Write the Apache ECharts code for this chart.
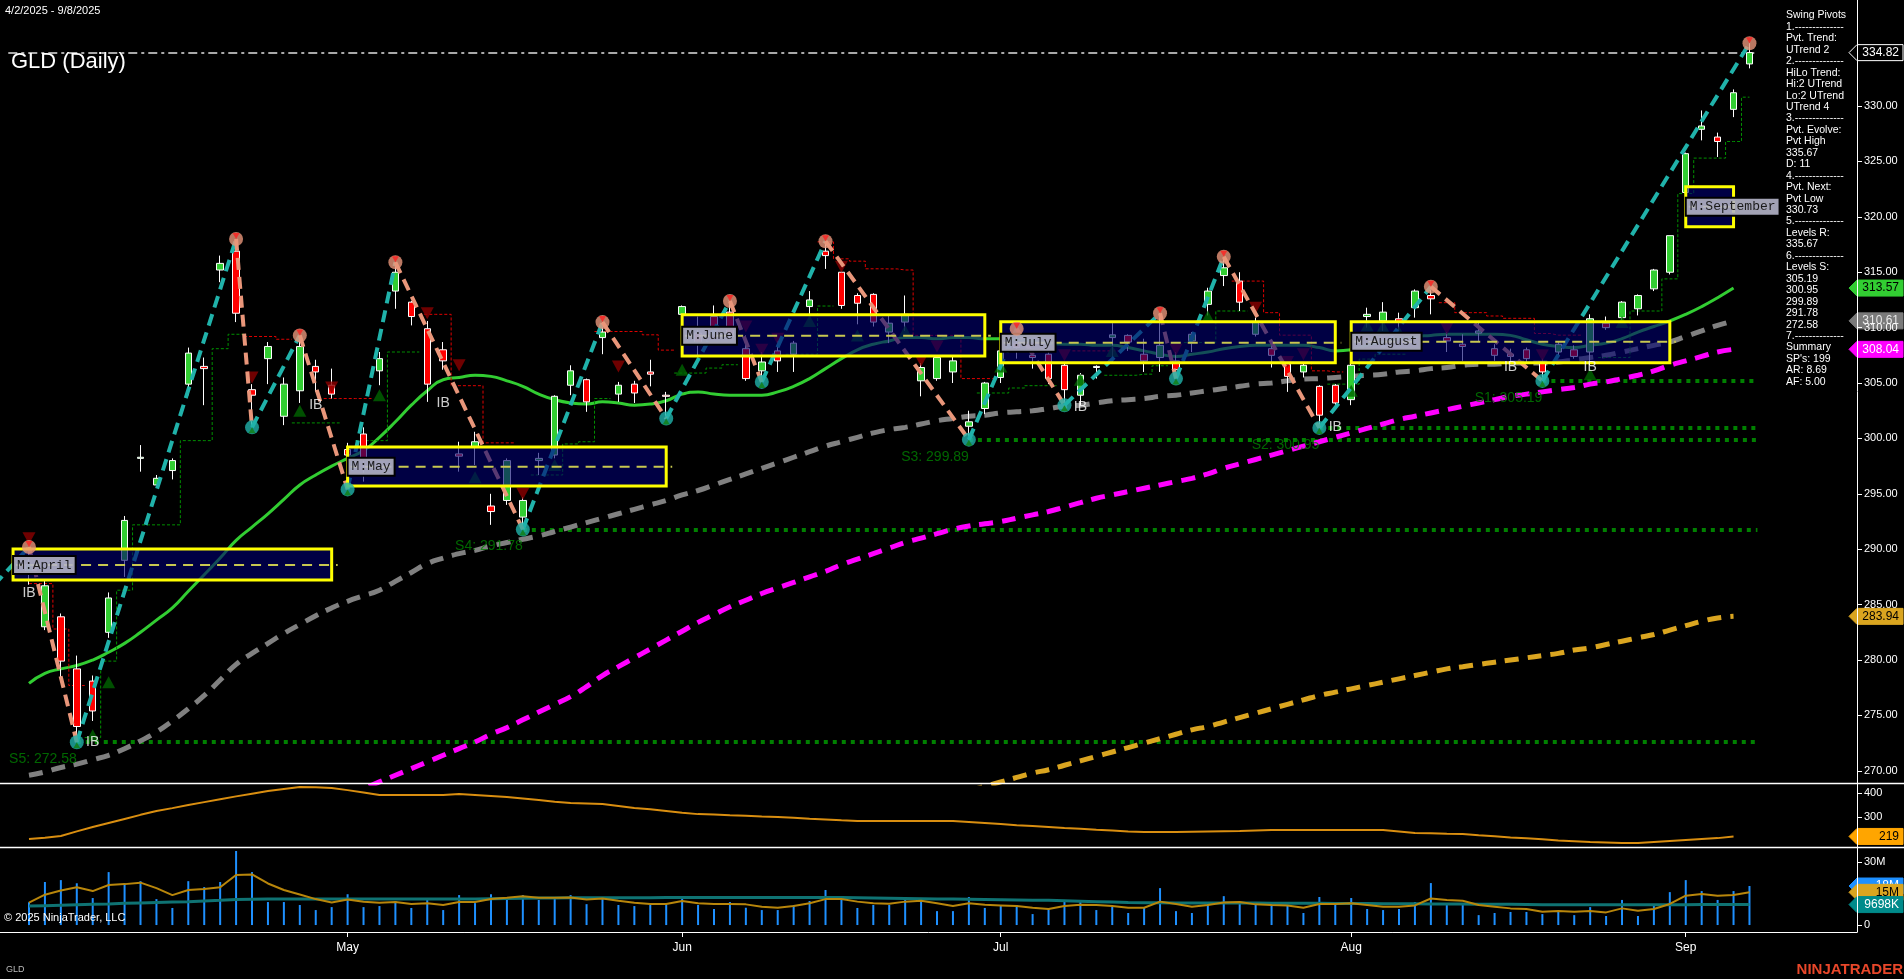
<!DOCTYPE html>
<html><head><meta charset="utf-8">
<script src="https://cdn.jsdelivr.net/npm/echarts@6/dist/echarts.min.js"></script>
<style>html,body{margin:0;padding:0;background:#000;overflow:hidden}#c{width:1904px;height:979px}</style>
</head><body><div id="c"></div>
<script>
// ---------------- DATA ----------------
const monthLabels = ['May','Jun','Jul','Aug','Sep'];
const monthTickIdx = [20,41,61,83,104];
const priceTicks = [270,275,280,285,290,295,300,305,310,315,320,325,330];
const indTicks = [300,400];
const volTicks = [0,30000000];

const opens = [288.0,283.0,283.9,279.2,278.1,282.5,289.0,298.2,295.8,297.1,
304.9,306.5,315.2,316.9,304.4,307.2,302.0,304.3,306.5,304.8,
299.0,300.4,306.1,313.3,312.3,309.9,308.0,298.6,299.2,293.9,
294.4,292.9,298.0,298.5,304.8,305.3,309.1,304.0,304.9,306.0,
303.9,311.2,309.5,311.0,311.4,308.1,306.1,307.9,307.6,311.9,
316.9,315.0,312.9,313.0,309.6,310.5,305.2,305.4,306.0,301.1,
302.7,305.5,308.6,307.5,307.6,306.6,303.9,306.4,309.1,309.3,
307.6,307.3,307.0,308.8,312.1,314.7,314.2,309.4,308.1,306.7,
306.0,304.7,304.8,303.5,311.0,310.6,310.8,311.8,312.9,309.1,
308.5,309.5,308.1,307.6,308.0,306.9,307.8,308.0,307.8,310.4,
310.9,311.7,313.5,315.0,322.2,327.9,327.2,329.7,333.8];
const highs = [290.2,287.2,284.2,280.4,278.6,286.1,293.0,299.4,296.7,298.2,
308.2,307.3,316.5,318.0,304.9,308.7,305.5,309.3,307.1,306.3,
299.6,301.0,307.8,315.9,312.4,310.6,308.7,299.7,300.6,295.0,
298.2,294.7,298.7,303.9,306.6,305.4,310.5,305.1,305.2,307.1,
304.2,312.0,311.0,312.0,312.4,309.3,307.8,308.8,308.8,313.3,
317.8,315.1,313.1,313.1,311.1,312.9,306.8,307.4,307.5,302.5,
305.1,308.5,309.9,307.6,307.8,306.9,305.9,306.6,310.4,309.4,
309.0,311.3,307.8,309.6,313.6,316.4,315.0,310.9,308.4,306.9,
306.9,304.8,304.9,307.0,311.8,312.3,311.35,313.45,313.7,309.6,
309.4,310.6,308.5,308.1,308.2,307.2,308.7,308.4,311.2,311.0,
312.4,313.0,315.3,318.3,325.8,329.6,327.6,331.5,335.67];
const lows = [286.8,282.7,278.3,272.58,274.5,282.0,287.5,297.0,295.7,296.3,
303.9,303.0,314.1,310.5,301.0,304.9,301.2,303.2,304.2,303.6,
295.4,296.1,304.8,311.7,310.2,303.3,306.2,297.0,297.6,292.2,
294.0,291.78,296.7,298.2,303.9,302.4,307.6,303.3,303.2,304.7,
301.8,307.6,307.4,309.4,309.0,305.2,305.1,306.0,306.0,311.1,
315.3,311.7,310.3,310.1,308.6,309.7,303.8,305.2,305.0,299.89,
302.2,305.0,307.2,306.3,304.9,303.0,303.0,305.4,306.9,307.9,
306.0,306.0,305.4,307.8,311.1,313.75,311.5,309.2,306.4,304.2,
305.5,300.95,302.9,303.0,310.0,309.7,309.3,310.9,311.2,307.8,
307.0,308.7,307.0,306.9,306.9,305.19,307.5,307.2,306.6,309.8,
310.7,311.1,313.3,314.8,321.0,326.9,325.4,329.0,333.4];
const closes = [288.6,286.7,279.9,274.0,275.4,285.6,292.6,298.3,296.4,298.0,
307.7,306.3,315.8,311.3,303.9,308.3,304.9,308.3,306.0,304.0,
298.5,298.2,307.2,315.0,311.0,304.9,307.0,298.4,299.7,293.4,
298.0,294.4,298.2,303.8,306.1,303.3,309.6,304.8,304.1,305.8,
303.8,311.9,308.5,309.9,309.4,305.4,306.9,307.0,308.6,312.5,
316.5,312.0,312.2,310.5,310.4,311.2,306.4,307.3,307.0,301.5,
305.0,307.9,308.2,307.3,305.4,304.4,305.7,306.5,309.35,308.7,
307.0,308.4,306.2,309.4,313.3,315.4,312.3,310.5,307.5,305.6,
306.6,302.1,303.2,306.6,311.2,311.4,310.5,313.3,312.6,308.8,
308.3,309.7,307.5,307.4,307.2,306.0,308.5,307.4,310.8,310.0,
312.3,312.9,315.2,318.3,325.7,328.2,326.8,331.2,334.82];

const volumesM = [10.8,20.4,21.3,19.8,12.8,25.1,19.8,20.8,12.3,8.1,
20.8,18.0,20.4,35.1,25.1,10.9,10.9,9.5,7.1,8.5,
14.6,8.5,9.0,11.4,8.1,11.9,7.1,14.2,10.4,14.6,
13.1,14.2,11.9,12.8,14.2,9.9,13.3,9.5,9.0,9.5,
9.5,13.7,9.5,7.6,10.9,8.2,7.1,7.1,9.5,11.4,
16.6,12.8,8.1,9.5,9.5,12.8,11.9,6.6,6.6,13.3,
8.1,9.5,9.5,5.2,7.6,11.9,10.9,7.1,9.0,5.7,
8.1,17.5,6.6,5.7,10.9,13.7,10.9,9.5,9.5,9.5,
5.7,13.3,9.5,12.8,7.6,7.1,7.6,10.9,19.9,10.4,
9.9,4.7,5.7,6.2,6.2,5.2,6.6,4.7,8.5,4.3,
11.9,4.3,9.5,15.6,21.3,16.1,11.9,16.1,18.5];
const volMaShortM = [10.6,14.4,16.4,17.9,16.1,19.0,19.4,20.1,17.5,14.2,
16.6,17.1,17.9,23.7,24.0,19.7,16.6,14.5,12.3,10.7,
12.1,11.0,10.6,10.9,10.0,10.3,9.5,10.9,10.9,12.3,
12.9,13.6,12.9,12.9,13.1,12.1,12.6,11.5,10.6,10.0,
10.0,11.4,10.3,10.0,10.0,9.8,8.7,8.2,9.0,10.3,
12.3,12.3,11.1,10.3,10.1,11.1,11.5,10.3,9.0,10.3,
9.6,9.3,9.0,8.2,7.6,9.0,9.6,9.5,9.0,8.2,
8.2,11.1,10.0,8.7,9.5,10.7,10.9,9.8,9.5,9.3,
8.2,10.0,10.0,10.3,9.5,8.7,8.7,9.3,12.6,11.9,
11.5,9.5,8.7,7.9,7.6,6.3,6.6,6.3,6.6,6.0,
7.9,6.8,7.6,10.0,13.9,14.7,13.9,14.2,15.5];
const volMaLongM = [9.0,9.2,9.4,9.6,9.8,10.0,10.3,10.5,10.7,10.9,
11.1,11.4,11.7,12.1,12.2,12.3,12.3,12.3,12.3,12.3,
12.3,12.3,12.3,12.3,12.3,12.4,12.4,12.4,12.4,12.5,
12.6,12.7,12.8,12.8,12.9,12.9,12.9,12.9,12.9,12.9,
13.0,13.0,13.0,13.1,13.1,13.1,13.1,13.1,13.1,13.1,
13.1,13.0,12.9,12.8,12.7,12.6,12.5,12.4,12.3,12.2,
12.1,12.0,11.9,11.8,11.7,11.5,11.3,11.1,10.9,10.7,
10.6,10.6,10.5,10.5,10.5,10.4,10.4,10.4,10.3,10.3,
10.3,10.3,10.2,10.2,10.2,10.1,10.1,10.1,10.0,10.0,
10.0,9.9,9.9,9.8,9.7,9.6,9.6,9.6,9.6,9.6,
9.6,9.6,9.6,9.6,9.6,9.7,9.7,9.7,9.698];

const indValues = [208,214,221,240,258,275,292,309,325,337,
350,362,374,386,397,408,417,425,424,421,
412,402,392,392,392,392,392,396,392,388,
383,377,371,364,358,356,354,346,338,332,
325,318,312,310,307,305,302,300,297,293,
290,286,283,283,283,283,283,283,283,279,
275,271,266,262,258,254,251,247,244,240,
237,237,238,239,240,241,242,244,246,246,
246,246,246,246,246,246,240,233,232,230,
229,224,220,215,211,207,202,199,196,194,
192,192,196,200,204,208,212,219];

const maGreen = [277.9,278.8,279.2,279.5,280.0,280.7,281.5,282.5,283.6,284.7,
286.2,287.7,289.2,290.8,292.0,293.2,294.5,295.8,296.7,297.5,
298.2,298.9,300.1,301.5,303.0,304.3,305.3,305.5,305.7,305.6,
305.2,304.7,304.0,303.5,303.2,303.1,303.3,303.2,303.0,303.1,
303.4,304.0,304.2,304.0,303.9,303.9,303.9,304.2,304.7,305.4,
306.3,307.2,308.0,308.5,308.8,309.1,309.1,309.0,309.1,309.1,
309.0,309.0,308.9,308.8,308.6,308.5,308.5,308.4,308.4,308.2,
307.9,307.6,307.4,307.6,307.8,308.1,308.3,308.4,308.4,308.4,
308.4,308.2,307.9,308.0,308.4,308.7,309.0,309.2,309.3,309.4,
309.4,309.4,309.4,309.3,308.9,308.5,308.3,308.2,308.4,308.6,
309.0,309.6,310.1,310.6,311.2,311.9,312.7,313.57];
const maGray = [269.6,269.9,270.3,270.6,271.0,271.4,272.0,272.7,273.5,274.5,
275.6,276.8,278.2,279.6,280.6,281.5,282.4,283.2,284.0,284.7,
285.3,285.8,286.3,287.1,287.9,288.7,289.2,289.6,289.9,290.3,
290.6,290.9,291.2,291.6,292.0,292.4,292.8,293.2,293.6,294.0,
294.4,294.9,295.3,295.8,296.3,296.8,297.3,297.8,298.3,298.8,
299.3,299.7,300.1,300.5,300.8,301.0,301.3,301.6,301.8,302.0,
302.1,302.3,302.4,302.5,302.7,302.9,303.0,303.2,303.4,303.5,
303.6,303.8,303.9,304.1,304.3,304.5,304.7,304.9,305.0,305.2,
305.35,305.4,305.5,305.6,305.7,305.8,306.0,306.1,306.3,306.4,
306.6,306.7,306.7,306.8,306.8,306.8,306.9,307.1,307.3,307.5,
307.8,308.1,308.4,308.7,309.2,309.7,310.2,310.61];
const maMagentaStart = 20;
const maMagenta = [267.8,268.4,269.0,269.6,270.2,270.8,271.4,272.0,272.6,273.3,
273.9,274.6,275.3,276.0,276.7,277.6,278.6,279.4,280.2,281.0,
281.8,282.6,283.4,284.1,284.8,285.4,286.0,286.5,287.0,287.5,
288.0,288.6,289.1,289.6,290.1,290.6,291.0,291.4,291.8,292.1,
292.3,292.5,292.8,293.1,293.4,293.8,294.2,294.6,294.9,295.2,
295.5,295.8,296.1,296.4,296.8,297.3,297.7,298.1,298.5,298.9,
299.3,299.7,300.1,300.5,300.9,301.3,301.7,302.0,302.3,302.6,
302.9,303.2,303.5,303.8,304.0,304.2,304.4,304.6,304.9,305.1,
305.4,305.7,306.1,306.6,307.0,307.4,307.8,308.04];
const maOrangeStart = 59;
const maOrange = [268.2,268.6,269.0,269.4,269.8,270.1,270.5,270.9,271.3,271.7,
272.1,272.5,272.9,273.3,273.7,274.0,274.4,274.8,275.2,275.6,
276.0,276.4,276.8,277.1,277.4,277.7,278.0,278.3,278.6,278.9,
279.2,279.4,279.6,279.8,280.0,280.2,280.4,280.6,280.9,281.1,
281.4,281.7,282.0,282.3,282.7,283.1,283.5,283.8,283.94];

// trailing swing stops, one value per bar (null = none)
const trailGreen = [null,null,null,null,273.0,279.9,286.3,292.2,292.2,292.2,
299.8,299.8,308.1,309.4,null,null,null,301.4,301.4,301.4,
null,299.8,299.8,307.8,307.8,null,null,null,null,null,
null,null,296.7,296.7,299.5,299.7,303.6,null,null,null,
null,305.9,305.9,306.35,306.65,null,null,null,307.6,307.6,
311.95,null,null,null,null,null,null,null,null,null,
304.1,304.1,304.55,304.76,304.76,null,null,null,305.7,305.7,
305.8,306.56,null,308.65,308.65,311.5,311.5,null,null,null,
null,null,304.9,304.9,307.16,307.6,307.6,null,null,null,
null,null,null,null,null,null,null,null,null,307.3,
307.3,311.5,311.5,314.4,322.1,325.3,325.3,326.8,330.8];
const trailRed = [286.9,286.9,282.8,277.7,null,null,null,null,null,null,
null,null,null,null,309.2,309.2,308.95,null,null,303.6,
303.6,303.6,null,null,null,311.2,311.2,304.76,304.76,299.6,
299.6,null,null,null,null,null,309.65,309.65,309.65,309.35,
307.97,null,null,null,null,null,null,null,null,null,
317.74,316.21,316.0,315.31,315.3,315.2,309.3,309.3,309.3,305.4,
305.4,null,null,null,null,null,307.9,307.9,307.9,null,
null,null,null,null,null,null,314.2,314.2,311.35,309.32,
309.32,306.1,306.0,null,null,null,null,null,null,312.25,
311.35,311.35,311.05,310.84,310.84,309.47,309.32,309.32,null,null,
null,null,null,null,null,null,null,null,null];

// swing pivots: [bar index, price, 'H'|'L']
const pivotIdx   = [-3,0,3,13,14,17,20,23,31,36,40,44,46,50,59,62,65,71,72,75,81,88,95,108];
const pivotPrice = [285.5,290.2,272.58,318.0,301.0,309.3,295.4,315.9,291.78,310.5,301.8,312.4,305.1,317.8,299.89,309.9,303.0,311.3,305.4,316.4,300.95,313.7,305.19,335.67];
const pivotType  = ['L','H','L','H','L','H','L','H','L','H','L','H','L','H','L','H','L','H','L','H','L','H','L','H'];

// monthly opening-range boxes
const boxNames = ['M:April','M:May','M:June','M:July','M:August','M:September'];
const boxStart = [-1,20,41,61,83,104];
const boxEnd   = [19,40,60,82,103,107];
const boxLow   = [287.22,295.70,307.44,306.83,306.83,319.11];
const boxHigh  = [290.02,299.22,311.16,310.53,310.53,322.72];
const boxMid   = [288.57,297.45,309.27,308.64,308.73,320.91];

// support levels
const supportNames = ['S5: 272.58','S4: 291.78','S3: 299.89','S2: 300.95','S1: 305.19'];
const supportIdx = [3,31,59,81,95];
const supportVal = [272.58,291.78,299.89,300.95,305.19];
const lastPrice = 334.82;

// markers
const downTriIdx = [0,14,19,25,27,31,37,45,46,47,51,56,57,65,72,77,79,80,89,95];
const downTriVal = [291.0,305.5,304.6,311.3,306.6,295.0,306.5,310.1,308.0,309.0,315.5,307.0,308.3,307.5,308.0,311.8,306.9,307.6,309.9,307.5];
const upTriIdx = [4,5,17,22,28,33,41,49,52,55,61,66,68,74,83,84,85,86,98,100];
const upTriVal = [273.2,278.0,302.5,303.9,296.5,297.6,306.2,310.6,309.3,309.7,306.5,305.3,307.9,311.0,304.3,310.2,310.1,309.6,305.8,310.5];
const ibIdx = [0,4,18,26,66,82,93,98];
const ibVal = [286.0,272.6,303.0,303.2,302.8,301.0,306.4,306.4];

const pivotPanelLines = ['Swing Pivots','1.--------------','Pvt. Trend:','UTrend 2','2.--------------','HiLo Trend:','Hi:2 UTrend','Lo:2 UTrend','UTrend 4','3.--------------','Pvt. Evolve:','Pvt High','335.67','D: 11','4.--------------','Pvt. Next:','Pvt Low','330.73','5.--------------','Levels R:','335.67','6.--------------','Levels S:','305.19','300.95','299.89','291.78','272.58','7.--------------','Summary',"SP's: 199",'AR: 8.69','AF: 5.00'];

// ---------------- CHART ----------------
const chart = echarts.init(document.getElementById('c'), null, {renderer:'canvas'});
const XMIN = -1.82, XMAX = 114.75;
const FONT = '"Liberation Sans", Arial, sans-serif';
const idx = a => a.map((v,i)=>[i,v]);
const idxFrom = (a,s) => a.map((v,i)=>[i+s,v]);

const candleData = opens.map((o,i)=>[i,o,closes[i],lows[i],highs[i]]);
const upSegs=[], dnSegs=[];
for (let k=1;k<pivotIdx.length;k++){
  const seg = {coords:[[pivotIdx[k-1],pivotPrice[k-1]],[pivotIdx[k],pivotPrice[k]]]};
  (pivotType[k]==='H'?upSegs:dnSegs).push(seg);
}
const pivotPts = pivotIdx.map((x,k)=>({value:[x,pivotPrice[k]], itemStyle:{color: pivotType[k]==='H'?'#E9967A':'#20B2AA'}})).filter(p=>p.value[0]>=0);
const pivotHighMarks = pivotIdx.map((x,k)=>[x,pivotPrice[k],pivotType[k]]).filter(p=>p[0]>=0 && p[2]==='H').map(p=>[p[0],p[1]]);
const pivotLowMarks = pivotIdx.map((x,k)=>[x,pivotPrice[k],pivotType[k]]).filter(p=>p[0]>=0 && p[2]==='L').map(p=>[p[0],p[1]]);
const supportSegs = supportIdx.map((x,k)=>({coords:[[x,supportVal[k]],[108.5,supportVal[k]]]}));
const boxData = boxNames.map((n,k)=>[boxStart[k],boxEnd[k],boxLow[k],boxHigh[k],boxMid[k]]);
const trail = a => a.map((v,i)=>[i, v===null?'-':v]);

function renderBox(params, api){
  const s=api.value(0), e=api.value(1), lo=api.value(2), hi=api.value(3), mid=api.value(4);
  const tl=api.coord([s,hi]), br=api.coord([e,lo]), ml=api.coord([s,mid]), mr=api.coord([e,mid]);
  return {type:'group', children:[
    {type:'rect', shape:{x:tl[0], y:tl[1], width:br[0]-tl[0], height:br[1]-tl[1]},
     style:{fill:'rgba(0,0,110,0.62)', stroke:'#FFFF00', lineWidth:3}},
    {type:'line', shape:{x1:ml[0], y1:ml[1], x2:mr[0]+6, y2:mr[1]},
     style:{stroke:'#C8C850', lineWidth:2, lineDash:[10,7]}},
    {type:'text', x:tl[0]+1, y:ml[1], z2:10,
     style:{text:boxNames[params.dataIndex], font:'13px "Liberation Mono", monospace', fill:'#1a1a1a',
            backgroundColor:'rgba(180,180,200,0.9)', borderColor:'#000', borderWidth:2,
            padding:[2,3,1,3], verticalAlign:'middle', align:'left'}}
  ]};
}

const yAxisCommon = {
  position:'right', scale:true,
  axisLine:{show:true, onZero:false, lineStyle:{color:'#FFFFFF', width:1}},
  splitLine:{show:false},
  axisLabel:{color:'#FFFFFF', fontSize:11, fontFamily:FONT, margin:7},
};

const option = {
  backgroundColor:'#000000',
  animation:false,
  grid:[
    {left:0, right:47, top:0, height:783},
    {left:0, right:47, top:783, height:64},
    {left:0, right:47, top:847, height:85}
  ],
  xAxis:[
    {type:'value', gridIndex:0, min:XMIN, max:XMAX, show:false},
    {type:'value', gridIndex:1, min:XMIN, max:XMAX, show:false},
    {type:'value', gridIndex:2, min:XMIN, max:XMAX,
     axisLine:{show:true, onZero:false, lineStyle:{color:'#FFFFFF'}},
     splitLine:{show:false},
     axisTick:{show:true, length:5, lineStyle:{color:'#FFFFFF'}, customValues:monthTickIdx},
     axisLabel:{color:'#FFFFFF', fontSize:12, fontFamily:FONT, margin:10, customValues:monthTickIdx,
       formatter:v=>{const k=monthTickIdx.indexOf(Math.round(v)); return k>=0?monthLabels[k]:'';}}}
  ],
  yAxis:[
    Object.assign({}, yAxisCommon, {gridIndex:0, min:268.90, max:339.57,
      axisTick:{show:true, length:5, lineStyle:{color:'#FFFFFF'}, customValues:priceTicks},
      axisLabel:Object.assign({}, yAxisCommon.axisLabel, {customValues:priceTicks, formatter:v=>v.toFixed(2)})}),
    Object.assign({}, yAxisCommon, {gridIndex:1, min:175, max:441.7,
      axisTick:{show:true, length:5, lineStyle:{color:'#FFFFFF'}, customValues:indTicks},
      axisLabel:Object.assign({}, yAxisCommon.axisLabel, {customValues:indTicks, formatter:v=>String(Math.round(v))})}),
    Object.assign({}, yAxisCommon, {gridIndex:2, min:-3300000, max:37000000,
      axisTick:{show:true, length:5, lineStyle:{color:'#FFFFFF'}, customValues:volTicks},
      axisLabel:Object.assign({}, yAxisCommon.axisLabel, {customValues:volTicks, formatter:v=>v===0?'0':Math.round(v/1e6)+'M'})})
  ],
  series:[
    // volume panel
    {type:'bar', xAxisIndex:2, yAxisIndex:2, data:volumesM.map((v,i)=>[i,v*1e6]), barWidth:2,
     itemStyle:{color:'#1E90FF'}, z:2},
    {type:'line', xAxisIndex:2, yAxisIndex:2, data:volMaLongM.map((v,i)=>[i,v*1e6]), showSymbol:false,
     lineStyle:{color:'#0F7373', width:3}, z:3},
    {type:'line', xAxisIndex:2, yAxisIndex:2, data:volMaShortM.map((v,i)=>[i,v*1e6]), showSymbol:false,
     lineStyle:{color:'#B8860B', width:2}, z:4},
    // indicator panel
    {type:'line', xAxisIndex:1, yAxisIndex:1, data:idx(indValues), showSymbol:false,
     lineStyle:{color:'#D98E10', width:2}, z:3},
    // moving averages
    {type:'line', xAxisIndex:0, yAxisIndex:0, data:idxFrom(maOrange,maOrangeStart), showSymbol:false, smooth:true,
     lineStyle:{color:'#DAA520', width:5, type:[14,9]}, z:3},
    {type:'line', xAxisIndex:0, yAxisIndex:0, data:idxFrom(maMagenta,maMagentaStart), showSymbol:false, smooth:true,
     lineStyle:{color:'#FF00FF', width:5, type:[14,9]}, z:3},
    {type:'line', xAxisIndex:0, yAxisIndex:0, data:idx(maGray), showSymbol:false, smooth:true,
     lineStyle:{color:'#808080', width:5, type:[14,9]}, z:3},
    {type:'line', xAxisIndex:0, yAxisIndex:0, data:idx(maGreen), showSymbol:false, smooth:true,
     lineStyle:{color:'#32CD32', width:3}, z:3},
    // trailing stop steps
    {type:'line', xAxisIndex:0, yAxisIndex:0, data:trail(trailGreen), step:'middle', showSymbol:false, connectNulls:false,
     lineStyle:{color:'#009000', width:1, type:[3,2]}, z:3},
    {type:'line', xAxisIndex:0, yAxisIndex:0, data:trail(trailRed), step:'middle', showSymbol:false, connectNulls:false,
     lineStyle:{color:'#E00000', width:1, type:[3,2]}, z:3},
    // support dotted lines
    {type:'lines', coordinateSystem:'cartesian2d', xAxisIndex:0, yAxisIndex:0, data:supportSegs,
     lineStyle:{color:'#008000', width:4, type:[4,5], opacity:1}, z:3},
    // last price dash-dot line
    {type:'lines', coordinateSystem:'cartesian2d', xAxisIndex:0, yAxisIndex:0,
     data:[{coords:[[-1.3,lastPrice],[108.3,lastPrice]]}],
     lineStyle:{color:'#A8A8A8', width:2, type:[9,4,3,4], opacity:1}, z:3},
    // candles
    {type:'candlestick', xAxisIndex:0, yAxisIndex:0, data:candleData,
     dimensions:['idx','open','close','lowest','highest'], encode:{x:0, y:[1,2,3,4]},
     barWidth:7,
     itemStyle:{color:'#32CD32', color0:'#FF0000', borderColor:'#FFFFFF', borderColor0:'#FFFFFF', borderWidth:1}, z:4},
    // triangles
    {type:'scatter', xAxisIndex:0, yAxisIndex:0, data:downTriIdx.map((x,k)=>[x,downTriVal[k]]),
     symbol:'triangle', symbolRotate:180, symbolSize:[13,12], itemStyle:{color:'#8B0000'}, z:5},
    {type:'scatter', xAxisIndex:0, yAxisIndex:0, data:upTriIdx.map((x,k)=>[x,upTriVal[k]]),
     symbol:'triangle', symbolSize:[13,12], itemStyle:{color:'#006400'}, z:5},
    // swing lines
    {type:'lines', coordinateSystem:'cartesian2d', xAxisIndex:0, yAxisIndex:0, data:upSegs,
     lineStyle:{color:'#20B2AA', width:4, type:[12,7], opacity:1}, z:6},
    {type:'lines', coordinateSystem:'cartesian2d', xAxisIndex:0, yAxisIndex:0, data:dnSegs,
     lineStyle:{color:'#E9967A', width:4, type:[12,7], opacity:1}, z:6},
    // monthly boxes
    {type:'custom', xAxisIndex:0, yAxisIndex:0, data:boxData, renderItem:renderBox,
     encode:{x:[0,1], y:[2,3,4]}, z:7},
    // pivot circles
    {type:'scatter', xAxisIndex:0, yAxisIndex:0, data:pivotPts, symbolSize:14, z:8},
    {type:'scatter', xAxisIndex:0, yAxisIndex:0, data:pivotHighMarks, symbol:'triangle', symbolRotate:180,
     symbolSize:[7,6], symbolOffset:[0,-3], itemStyle:{color:'#FF2020'}, z:9},
    {type:'scatter', xAxisIndex:0, yAxisIndex:0, data:pivotLowMarks, symbol:'triangle',
     symbolSize:[7,6], symbolOffset:[0,3], itemStyle:{color:'#108010'}, z:9},
    // IB labels
    {type:'scatter', xAxisIndex:0, yAxisIndex:0, data:ibIdx.map((x,k)=>[x,ibVal[k]]), symbolSize:0,
     label:{show:true, position:'inside', formatter:'IB', color:'#FFFFFF', fontSize:14, fontFamily:FONT}, z:9},
    // support labels
    {type:'scatter', xAxisIndex:0, yAxisIndex:0, data:supportIdx.map((x,k)=>({value:[x,supportVal[k]], name:supportNames[k]})),
     symbolSize:0,
     label:{show:true, position:'left', distance:0, offset:[0,17], formatter:p=>p.name, color:'#008000', fontSize:14, fontFamily:FONT}, z:9}
  ]
};
chart.setOption(option);

// ---------------- TEXT & TAGS ----------------
function tag(yAxisIndex, value, text, fill, color, stroke){
  const y = chart.convertToPixel({yAxisIndex:yAxisIndex}, value);
  return {type:'group', z:100, children:[
    {type:'polygon', shape:{points:[[1849,y],[1857,y-8],[1903,y-8],[1903,y+8],[1857,y+8]]},
     style:{fill:fill, stroke:stroke||fill, lineWidth:1}},
    {type:'text', x:1899, y:y, style:{text:text, fill:color, font:'12px '+FONT, align:'right', verticalAlign:'middle'}}
  ]};
}
const g = [];
g.push({type:'text', x:5, y:5, z:100, style:{text:'4/2/2025 - 9/8/2025', fill:'#FFFFFF', font:'11px '+FONT}});
g.push({type:'text', x:11, y:51, z:100, style:{text:'GLD (Daily)', fill:'#FFFFFF', font:'22px '+FONT}});
g.push({type:'text', x:4, y:912, z:100, style:{text:'\u00A9 2025 NinjaTrader, LLC', fill:'#FFFFFF', font:'11px '+FONT}});
g.push({type:'text', x:6, y:965, z:100, style:{text:'GLD', fill:'#BBBBBB', font:'9px '+FONT}});
g.push({type:'text', x:1903, y:962, z:100, style:{text:'NINJATRADER', fill:'#E8472A', font:'bold 15px '+FONT, align:'right'}});
pivotPanelLines.forEach((t,k)=>{
  g.push({type:'text', x:1786, y:10+k*11.45, z:100, style:{text:t, fill:'#FFFFFF', font:'10.5px '+FONT}});
});
g.push({type:'line', z:99, shape:{x1:0,y1:783.5,x2:1904,y2:783.5}, style:{stroke:'#FFFFFF', lineWidth:1.5}});
g.push({type:'line', z:99, shape:{x1:0,y1:847.5,x2:1904,y2:847.5}, style:{stroke:'#FFFFFF', lineWidth:1.5}});
g.push(tag(0, lastPrice, '334.82', '#000000', '#FFFFFF', '#FFFFFF'));
g.push(tag(0, maGreen[maGreen.length-1], maGreen[maGreen.length-1].toFixed(2), '#32CD32', '#000000'));
g.push(tag(0, maGray[maGray.length-1], maGray[maGray.length-1].toFixed(2), '#7A7A7A', '#E8E8E8'));
g.push(tag(0, maMagenta[maMagenta.length-1], maMagenta[maMagenta.length-1].toFixed(2), '#FF00FF', '#FFFFFF'));
g.push(tag(0, maOrange[maOrange.length-1], maOrange[maOrange.length-1].toFixed(2), '#DAA520', '#000000'));
g.push(tag(1, indValues[indValues.length-1], String(indValues[indValues.length-1]), '#FFA500', '#000000'));
g.push(tag(2, volumesM[volumesM.length-1]*1e6, '18M', '#1E90FF', '#FFFFFF'));
g.push(tag(2, volMaShortM[volMaShortM.length-1]*1e6, '15M', '#DAA520', '#000000'));
g.push(tag(2, volMaLongM[volMaLongM.length-1]*1e6, '9698K', '#008B8B', '#FFFFFF'));
chart.setOption({graphic:g});
</script>
</body></html>
